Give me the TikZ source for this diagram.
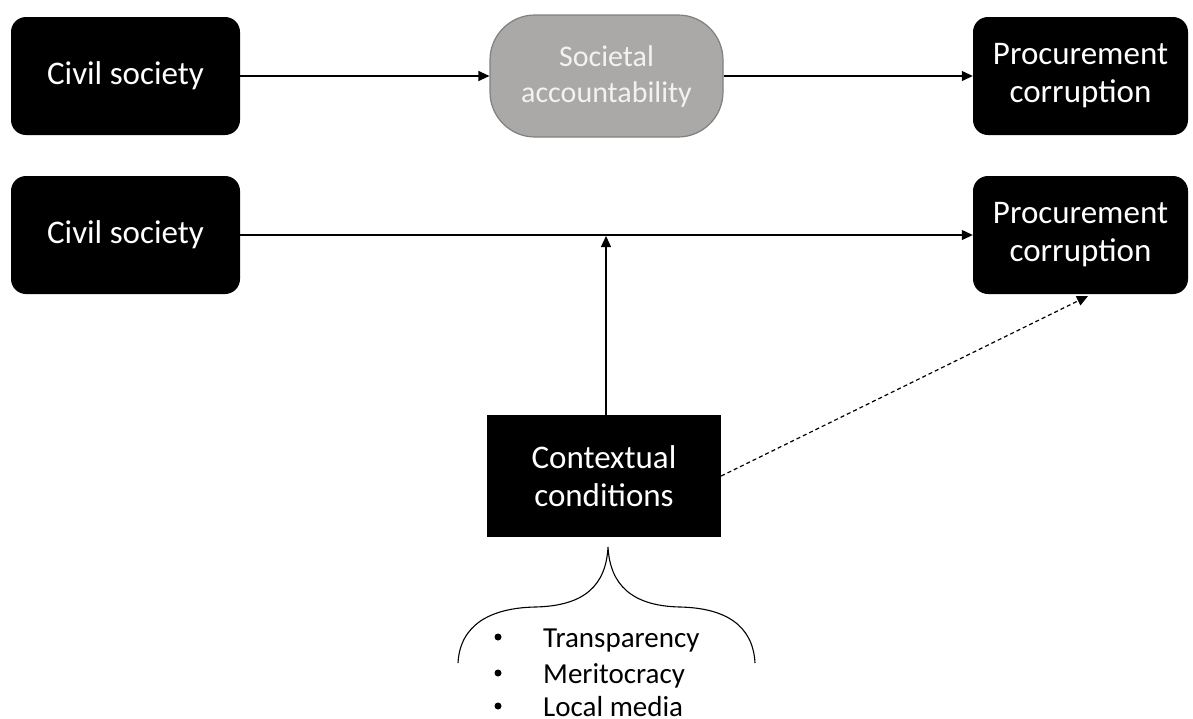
\documentclass[tikz,border=0pt]{standalone}
\usepackage{fontspec}
\setmainfont{Carlito}
\usetikzlibrary{arrows.meta}
\definecolor{sagray}{HTML}{ABA8A8}
\definecolor{saborder}{HTML}{808080}
\definecolor{satext}{HTML}{F2F2F2}
\tikzset{
  blackbox/.style={rectangle, rounded corners=15pt, fill=black, text=white, align=center,
    minimum width=229pt, minimum height=118pt, inner sep=0pt, font=\fontsize{33}{38}\selectfont},
  ctxbox/.style={rectangle, fill=black, text=white, align=center,
    minimum width=234pt, minimum height=122pt, inner sep=0pt, font=\fontsize{33}{38}\selectfont},
  sabox/.style={rectangle, rounded corners=45pt, fill=sagray, draw=saborder, line width=1.2pt, text=satext, align=center,
    minimum width=233pt, minimum height=122pt, inner sep=0pt, font=\fontsize{30}{36}\selectfont},
  conn/.style={line width=1.2pt, -{Triangle[length=11pt,width=10pt]}},
  listtxt/.style={anchor=base west, inner sep=0pt, font=\fontsize{29}{35}\selectfont},
  bullet/.style={circle, fill=black, inner sep=0pt, minimum size=7pt},
}
\begin{document}
\begin{tikzpicture}[x=1pt,y=-1pt]
\useasboundingbox (0,0) rectangle (1193,718);
\node[blackbox] (cs1) at (125.5,76) {Civil society};
\node[sabox] (sa) at (606.5,76) {Societal\\accountability};
\node[blackbox, minimum width=215pt] (pc1) at (1080.5,76) {Procurement\\corruption};
\node[blackbox] (cs2) at (125.5,235) {Civil society};
\node[blackbox, minimum width=215pt] (pc2) at (1080.5,235) {Procurement\\corruption};
\node[ctxbox] (cc) at (604,476) {Contextual\\conditions};
\draw[conn] (cs1.east) -- (sa.west);
\draw[conn] (sa.east) -- (pc1.west);
\draw[conn] (cs2.east) -- (pc2.west);
\coordinate (mid) at (606,236);
\draw[conn] (cc.north -| mid) -- (mid);
\coordinate (dt) at (1088,296);
\draw[conn, dash pattern=on 4pt off 3pt] (cc.east) -- (dt);
\draw[line width=1.1pt] (458,663) .. controls (460,625) and (490,608) .. (535,607)
  .. controls (585,606) and (606,585) .. (608,547)
  .. controls (610,585) and (632,606) .. (680,607)
  .. controls (725,608) and (753,625) .. (755,663);
\node[bullet] (b1) at (498,637) {};
\node[listtxt] (t1) at (543,647) {Transparency};
\node[bullet] (b2) at (498,673) {};
\node[listtxt] (t2) at (543,683) {Meritocracy};
\node[bullet] (b3) at (498,706) {};
\node[listtxt] (t3) at (543,716) {Local media};
\end{tikzpicture}
\end{document}
